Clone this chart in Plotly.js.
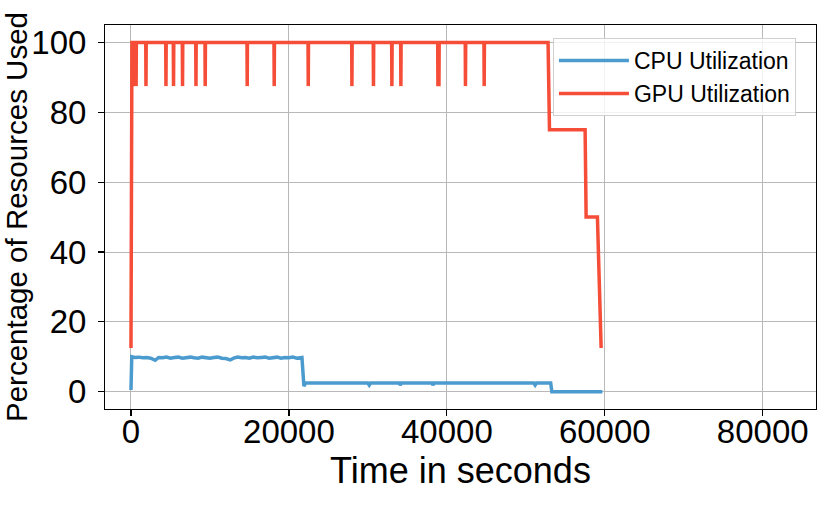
<!DOCTYPE html>
<html>
<head>
<meta charset="utf-8">
<script src="https://cdn.plot.ly/plotly-3.0.1.min.js"></script>
<style>
  html, body { margin: 0; padding: 0; background: #fff; }
  #chart { width: 830px; height: 508px; }
</style>
</head>
<body>
<div id="chart"></div>
<script>
// ---- Data ----
const seriesNames = ["CPU Utilization", "GPU Utilization"];

// CPU utilization (%) over time (s)
const cpuTime = [0, 100, 500, 1000, 1500, 2000, 2500, 3070, 3500, 4000, 4500, 5000, 5500, 6000, 6500, 7000, 7500, 8000, 8500, 9000, 9500, 10000, 10500, 11000, 11500, 12000, 12580, 13000, 13500, 14000, 14500, 15000, 15500, 16000, 16500, 17000, 17500, 18000, 18500, 19000, 19500, 20000, 20500, 21000, 21500, 21650, 21900, 22100, 25000, 30000, 30170, 30350, 34000, 34090, 34250, 38100, 38230, 38400, 51000, 51180, 51350, 53150, 53300, 59700];
const cpuUtil = [0.5, 10, 9.8, 9.9, 9.7, 9.8, 9.6, 9.0, 9.8, 9.7, 9.9, 9.6, 9.8, 9.9, 9.6, 9.8, 9.9, 9.7, 9.6, 9.9, 9.8, 9.6, 9.8, 9.9, 9.6, 9.5, 9.1, 9.6, 9.9, 9.7, 9.8, 9.6, 9.9, 9.7, 9.8, 9.9, 9.6, 9.7, 9.9, 9.6, 9.8, 9.7, 9.9, 9.6, 9.9, 9.8, 1.6, 2.5, 2.5, 2.5, 1.9, 2.5, 2.5, 1.9, 2.5, 2.5, 1.9, 2.5, 2.5, 1.9, 2.5, 2.5, 0, 0];

// GPU utilization (%) over time (s)
const gpuTime = [0, 120, 280, 300, 320, 620, 650, 680, 1870, 1900, 1930, 4400, 4430, 4460, 5360, 5390, 5420, 6500, 6530, 6560, 8200, 8230, 8260, 9370, 9400, 9430, 14690, 14720, 14750, 18110, 18140, 18170, 22420, 22450, 22480, 27950, 27980, 28010, 30680, 30710, 30740, 33010, 33040, 33070, 34150, 34180, 34210, 38840, 38870, 38900, 38970, 39000, 39030, 42330, 42360, 42390, 44700, 44730, 44760, 52820, 52870, 53000, 57510, 57640, 59070, 59540];
const gpuUtil = [12.5, 100, 100, 87.5, 100, 100, 87.5, 100, 100, 87.5, 100, 100, 87.5, 100, 100, 87.5, 100, 100, 87.5, 100, 100, 87.5, 100, 100, 87.5, 100, 100, 87.5, 100, 100, 87.5, 100, 100, 87.5, 100, 100, 87.5, 100, 100, 87.5, 100, 100, 87.5, 100, 100, 87.5, 100, 100, 87.5, 100, 100, 87.5, 100, 100, 87.5, 100, 100, 87.5, 100, 100, 87.5, 75, 75, 50, 50, 12.5];

const xTickVals = [0, 20000, 40000, 60000, 80000];
const yTickVals = [0, 20, 40, 60, 80, 100];
const xRange = [-3290, 86750];
const yRange = [-4.95, 105];

// ---- Styling ----
const FONT = "Liberation Sans, Arial, sans-serif";
const cpuColor = "#4b9bcf";
const gpuColor = "#f64d38";
const tickFont = { family: FONT, size: 33, color: "#000" };

const traces = [
  { x: cpuTime, y: cpuUtil, name: seriesNames[0], type: "scatter", mode: "lines",
    line: { color: cpuColor, width: 3.5 } },
  { x: gpuTime, y: gpuUtil, name: seriesNames[1], type: "scatter", mode: "lines",
    line: { color: gpuColor, width: 3.5 } },
  // empty helper trace so the label-only overlay axes are drawn
  { x: [], y: [], xaxis: "x2", yaxis: "y2", type: "scatter", mode: "lines",
    showlegend: false, hoverinfo: "skip" }
];

const layout = {
  width: 830, height: 508,
  margin: { l: 105, r: 14, t: 25, b: 99, pad: 0 },
  paper_bgcolor: "#fff", plot_bgcolor: "#fff",
  font: { family: FONT, color: "#000" },
  showlegend: true,
  legend: {
    x: 0.63, y: 0.966, xanchor: "left", yanchor: "top",
    bgcolor: "rgba(255,255,255,0.8)", bordercolor: "#d0d0d0", borderwidth: 1,
    itemwidth: 70,
    font: { family: FONT, size: 23, color: "#000" }
  },
  // main axes: frame, grid and tick marks
  xaxis: {
    range: xRange, tickvals: xTickVals, showticklabels: false,
    showline: true, mirror: true, linecolor: "#000", linewidth: 1.3,
    showgrid: true, gridcolor: "#b8b8b8", gridwidth: 1,
    ticks: "outside", ticklen: 6, tickwidth: 1.2, tickcolor: "#000", zeroline: false
  },
  yaxis: {
    range: yRange, tickvals: yTickVals, showticklabels: false,
    showline: true, mirror: true, linecolor: "#000", linewidth: 1.3,
    showgrid: true, gridcolor: "#b8b8b8", gridwidth: 1,
    ticks: "outside", ticklen: 6, tickwidth: 1.2, tickcolor: "#000", zeroline: false
  },
  // label axes (same scales) for tick labels and titles
  xaxis2: {
    overlaying: "x", anchor: "y", side: "bottom",
    range: xRange, tickvals: xTickVals, tickformat: "d", tickfont: tickFont,
    ticks: "", showgrid: false, showline: false, zeroline: false,
    title: { text: "Time in seconds", font: { family: FONT, size: 36, color: "#000" }, standoff: 7 }
  },
  yaxis2: {
    overlaying: "y", anchor: "x", side: "left",
    range: yRange, tickvals: yTickVals, tickfont: tickFont,
    ticks: "outside", ticklen: 11, tickcolor: "rgba(0,0,0,0)",
    showgrid: false, showline: false, zeroline: false,
    title: { text: "Percentage of Resources Used", font: { family: FONT, size: 29.5, color: "#000" }, standoff: 5 }
  }
};

Plotly.newPlot("chart", traces, layout, { displayModeBar: false, staticPlot: true });
</script>
</body>
</html>
